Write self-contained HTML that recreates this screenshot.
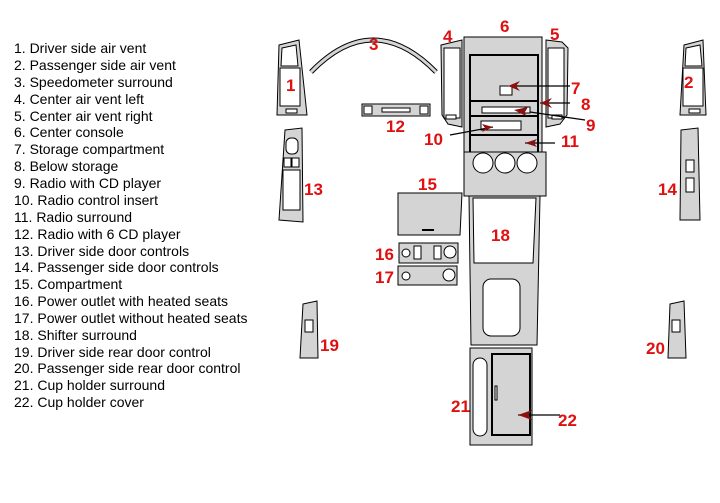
<!DOCTYPE html><html><head><style>body{margin:0;background:#fff}svg{display:block}
.l{font:14px "Liberation Sans",sans-serif;fill:#000}
.n{font:bold 17px "Liberation Sans",sans-serif;fill:#e01010}
.g{fill:#d4d4d4;stroke:#000;stroke-width:1}
.w{fill:#fff;stroke:#000;stroke-width:1}
</style></head><body>
<svg width="720" height="503" viewBox="0 0 720 503" xmlns="http://www.w3.org/2000/svg">
<g class="l">
<text x="14" y="53">1. Driver side air vent</text>
<text x="14" y="70">2. Passenger side air vent</text>
<text x="14" y="87">3. Speedometer surround</text>
<text x="14" y="104">4. Center air vent left</text>
<text x="14" y="121">5. Center air vent right</text>
<text x="14" y="137">6. Center console</text>
<text x="14" y="154">7. Storage compartment</text>
<text x="14" y="171">8. Below storage</text>
<text x="14" y="188">9. Radio with CD player</text>
<text x="14" y="205">10. Radio control insert</text>
<text x="14" y="222">11. Radio surround</text>
<text x="14" y="239">12. Radio with 6 CD player</text>
<text x="14" y="256">13. Driver side door controls</text>
<text x="14" y="272">14. Passenger side door controls</text>
<text x="14" y="289">15. Compartment</text>
<text x="14" y="306">16. Power outlet with heated seats</text>
<text x="14" y="323">17. Power outlet without heated seats</text>
<text x="14" y="340">18. Shifter surround</text>
<text x="14" y="357">19. Driver side rear door control</text>
<text x="14" y="373">20. Passenger side rear door control</text>
<text x="14" y="390">21. Cup holder surround</text>
<text x="14" y="407">22. Cup holder cover</text>
</g>
<!-- 1 -->
<polygon class="g" points="279,45 299,40 307,115 277,115"/>
<polygon class="w" points="282,48 296,45 298,66 281,66"/>
<rect class="w" x="280" y="68" width="20" height="38"/>
<rect class="w" x="286" y="109" width="11" height="4"/>
<!-- 2 -->
<polygon class="g" points="684,45 703,40 706,115 680,115"/>
<polygon class="w" points="686,48 700,45 702,66 685,66"/>
<rect class="w" x="683" y="68" width="20" height="38"/>
<rect class="w" x="689" y="109" width="11" height="4"/>
<!-- 3 arc -->
<path d="M311,72 Q373,8 436,72" fill="none" stroke="#000" stroke-width="5"/>
<path d="M311,72 Q373,8 436,72" fill="none" stroke="#d4d4d4" stroke-width="3"/>
<!-- 12 -->
<rect class="g" x="362" y="104" width="68" height="12" stroke-width="2"/>
<rect class="w" x="364" y="106" width="8" height="8"/>
<rect class="w" x="420" y="106" width="8" height="8"/>
<rect class="w" x="382" y="108" width="28" height="4"/>
<!-- 13 -->
<polygon class="g" points="285,130 302,128 303,222 279,220"/>
<rect class="w" x="286" y="138" width="12" height="16" rx="5"/>
<rect class="w" x="284" y="158" width="7" height="9"/>
<rect class="w" x="292" y="158" width="7" height="9"/>
<rect class="w" x="283" y="170" width="17" height="40"/>
<!-- 14 -->
<polygon class="g" points="681,130 698,128 700,220 680,220"/>
<rect class="w" x="686" y="160" width="8" height="12"/>
<rect class="w" x="686" y="178" width="8" height="14"/>
<!-- 4 -->
<polygon class="g" points="441,45 462,40 462,127 448,124 442,115"/>
<rect class="w" x="444" y="48" width="16" height="70"/>
<rect class="w" x="446" y="115" width="10" height="4"/>
<!-- 5 -->
<polygon class="g" points="546,40 562,42 568,48 567,115 560,124 546,127"/>
<rect class="w" x="548" y="48" width="16" height="70"/>
<rect class="w" x="552" y="115" width="10" height="4"/>
<!-- 6 console -->
<rect class="g" x="464" y="37" width="78" height="128"/>
<rect x="470" y="55" width="68" height="102" fill="#d4d4d4" stroke="#000" stroke-width="2"/>
<line x1="470" y1="101" x2="538" y2="101" stroke="#000" stroke-width="2"/>
<rect class="w" x="482" y="107" width="48" height="6"/>
<line x1="470" y1="116" x2="538" y2="116" stroke="#000" stroke-width="2"/>
<rect class="w" x="481" y="121" width="40" height="9"/>
<line x1="470" y1="135" x2="538" y2="135" stroke="#000" stroke-width="2"/>
<rect class="w" x="500" y="86" width="12" height="9"/>
<!-- circles panel -->
<rect class="g" x="464" y="152" width="82" height="44"/>
<circle class="w" cx="483" cy="163" r="10"/>
<circle class="w" cx="505" cy="163" r="10"/>
<circle class="w" cx="527" cy="163" r="10"/>
<!-- 15 -->
<polygon class="g" points="398,193 462,193 460,235 398,235"/>
<rect x="422" y="229" width="12" height="2" fill="#000"/>
<!-- 16 -->
<rect class="g" x="399" y="243" width="59" height="20"/>
<circle class="w" cx="406" cy="253" r="4"/>
<rect class="w" x="414" y="246" width="7" height="13"/>
<rect class="w" x="434" y="246" width="7" height="13"/>
<circle class="w" cx="450" cy="252" r="6"/>
<!-- 17 -->
<rect class="g" x="398" y="266" width="59" height="19"/>
<circle class="w" cx="406" cy="276" r="4"/>
<circle class="w" cx="449" cy="275" r="6"/>
<!-- 18 -->
<polygon class="g" points="469,196 540,196 537,345 471,345"/>
<polygon class="w" points="473,198 536,198 533,263 474,263"/>
<rect class="w" x="483" y="279" width="37" height="57" rx="8"/>
<!-- 21 -->
<rect class="g" x="470" y="348" width="62" height="97"/>
<rect class="w" x="473" y="358" width="14" height="78" rx="7"/>
<rect x="492" y="354" width="38" height="81" fill="#d4d4d4" stroke="#000" stroke-width="2"/>
<rect class="w" x="495" y="386" width="2" height="14"/>
<!-- 19 -->
<polygon class="g" points="303,304 317,301 318,358 300,358"/>
<rect class="w" x="305" y="320" width="8" height="12"/>
<!-- 20 -->
<polygon class="g" points="670,304 684,301 686,358 668,358"/>
<rect class="w" x="672" y="320" width="8" height="12"/>
<!-- arrows -->
<g stroke="#000" stroke-width="1.2">
<line x1="512" y1="86" x2="570" y2="86"/>
<line x1="540" y1="103" x2="570" y2="103"/>
<line x1="530" y1="112" x2="585" y2="120"/>
<line x1="450" y1="135" x2="493" y2="127"/>
<line x1="525" y1="143" x2="555" y2="143"/>
<line x1="518" y1="415" x2="560" y2="415"/>
</g>
<g fill="#8b1010">
<polygon points="508,86 520,81 516,86 520,91"/>
<polygon points="540,103 552,98 548,103 552,108"/>
<polygon points="514,110 528,107 525,112 526,116"/>
<polygon points="493,127 482,124 485,128 482,132"/>
<polygon points="525,143 537,139 534,143 537,147"/>
<polygon points="518,415 532,410 528,415 532,420"/>
</g>
<!-- labels -->
<g class="n">
<text x="286" y="91">1</text>
<text x="684" y="88">2</text>
<text x="369" y="50">3</text>
<text x="443" y="42">4</text>
<text x="500" y="32">6</text>
<text x="550" y="40">5</text>
<text x="571" y="94">7</text>
<text x="581" y="110">8</text>
<text x="586" y="131">9</text>
<text x="424" y="145">10</text>
<text x="561" y="147">11</text>
<text x="386" y="132">12</text>
<text x="304" y="195">13</text>
<text x="658" y="195">14</text>
<text x="418" y="190">15</text>
<text x="491" y="241">18</text>
<text x="375" y="260">16</text>
<text x="375" y="283">17</text>
<text x="320" y="351">19</text>
<text x="646" y="354">20</text>
<text x="451" y="412">21</text>
<text x="558" y="426">22</text>
</g>
</svg></body></html>
